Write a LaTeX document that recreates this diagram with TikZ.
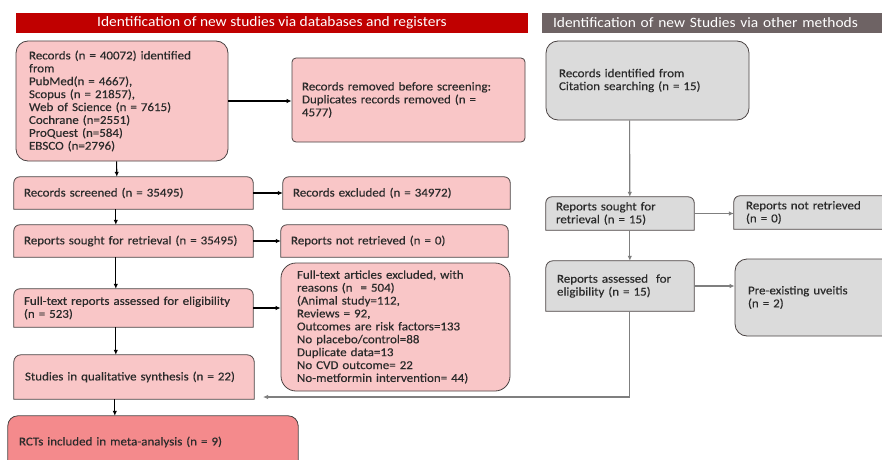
\documentclass[tikz,border=0pt]{standalone}
\usepackage{fontspec}
\setmainfont{Carlito}[FakeStretch=1.08]
\newfontfamily\boxfam{Carlito}[FakeStretch=1.08,FakeBold=0.3]
\usetikzlibrary{arrows.meta,backgrounds}
\definecolor{pinkc}{HTML}{F9C6C7}
\definecolor{rctc}{HTML}{F48A8C}
\definecolor{grayc}{HTML}{DBDBDB}
\definecolor{edgec}{HTML}{4A4343}
\definecolor{textc}{HTML}{2B2B2B}
\definecolor{hdrred}{HTML}{C00000}
\definecolor{hdrgray}{HTML}{6E6364}
\definecolor{arrgray}{HTML}{7F7F7F}
\newcommand\toprnd[3]{%
  \path[#3] (#1.south west) -- ([yshift=-#2]#1.north west)
    arc[start angle=180,end angle=90,radius=#2]
    -- ([xshift=-#2]#1.north east)
    arc[start angle=90,end angle=0,radius=#2]
    -- (#1.south east) -- cycle;}
\tikzset{
  pinkbox/.style={fill=pinkc, draw=edgec, line width=0.8pt},
  rctbox/.style={fill=rctc, draw=edgec, line width=0.8pt},
  graybox/.style={fill=grayc, draw=edgec, line width=0.8pt},
  lbl/.style={font=\boxfam\fontsize{12}{12.9}\selectfont, align=left, inner ysep=0pt, text=textc},
  hdr/.style={font=\fontsize{14.3}{15}\selectfont, text=white, inner ysep=0pt},
  arr/.style={-{Latex[length=5pt,width=4.5pt]}, line width=1.1pt, black},
  garr/.style={-{Latex[length=5pt,width=4.5pt]}, line width=1.1pt, arrgray},
}
\begin{document}
\begin{tikzpicture}[x=1pt,y=1pt]
\useasboundingbox (0,0) rectangle (882,459);

% headers
\node[hdr, fill=hdrred, minimum width=512pt, minimum height=20pt, align=center] (H1) at (272,436) {Identification of new studies via databases and registers};
\node[hdr, fill=hdrgray, minimum height=20pt, text width=326pt, inner xsep=11pt, align=left] (H2) at (716,436) {Identification of new Studies via other methods};

% left column
\node[lbl, pinkbox, rounded corners=12pt, minimum height=120pt, text width=186pt, inner xsep=13pt] (A) at (122,358) {Records (n = 40072) identified\\from\\PubMed(n = 4667),\\Scopus (n = 21857),\\Web of Science (n = 7615)\\Cochrane (n=2551)\\ProQuest (n=584)\\EBSCO (n=2796)};
\node[lbl, pinkbox, rounded corners=4pt, minimum height=84pt, text width=213pt, inner xsep=10pt] (B) at (408.5,359) {Records removed before screening:\\Duplicates records removed (n =\\4577)};
\node[lbl, minimum height=32pt, text width=219pt, inner xsep=10pt] (C) at (133.5,266) {Records screened (n = 35495)};
\node[lbl, minimum height=32pt, text width=207pt, inner xsep=10pt] (D) at (396.5,266) {Records excluded (n = 34972)};
\node[lbl, minimum height=32pt, text width=219pt, inner xsep=10pt] (E) at (133.5,218) {Reports sought for retrieval (n = 35495)};
\node[lbl, minimum height=32pt, text width=207pt, inner xsep=10pt] (F) at (394.5,218) {Reports not retrieved (n = 0)};
\node[lbl, minimum height=38pt, text width=219pt, inner xsep=10pt] (G) at (133.5,151) {Full-text reports assessed for eligibility\\(n = 523)};
\node[lbl, pinkbox, rounded corners=15pt, minimum height=128pt, text width=197pt, inner xsep=16pt] (H) at (395.5,132) {Full-text articles excluded, with\\reasons (n\ \ = 504)\\(Animal study=112,\\Reviews = 92,\\Outcomes are risk factors=133\\No placebo/control=88\\Duplicate data=13\\No CVD outcome= 22\\No-metformin intervention= 44)};
\node[lbl, minimum height=44pt, text width=218pt, inner xsep=11pt] (I) at (134,82) {Studies in qualitative synthesis (n = 22)};
\node[lbl, minimum height=52pt, text width=268pt, inner xsep=11pt] (J) at (153,17) {RCTs included in meta-analysis (n = 9)};

% right column
\node[lbl, graybox, rounded corners=12pt, minimum height=79pt, text width=177pt, inner xsep=13pt] (K) at (647.5,378.5) {Records identified from\\Citation searching (n = 15)};
\node[lbl, minimum height=33pt, text width=128pt, inner xsep=10pt] (L) at (620,245.5) {Reports sought for\\retrieval (n = 15)};
\node[lbl, minimum height=33pt, text width=142pt, inner xsep=12pt] (M) at (817,246.5) {Reports not retrieved\\(n = 0)};
\node[lbl, minimum height=50pt, text width=126pt, inner xsep=11pt] (N) at (620,173) {Reports assessed\ \ for\\eligibility (n = 15)};
\node[lbl, graybox, rounded corners=12pt, minimum height=77pt, text width=139pt, inner xsep=13pt] (O) at (817.5,161.5) {Pre-existing uveitis\\(n = 2)};

\begin{pgfonlayer}{background}
  \fill[white] (0,0) rectangle (882,459);
  \toprnd{C}{6pt}{pinkbox}
  \toprnd{D}{6pt}{pinkbox}
  \toprnd{E}{6pt}{pinkbox}
  \toprnd{F}{6pt}{pinkbox}
  \toprnd{G}{6pt}{pinkbox}
  \toprnd{I}{7pt}{pinkbox}
  \toprnd{J}{10pt}{rctbox}
  \toprnd{L}{6pt}{graybox}
  \toprnd{M}{6pt}{graybox}
  \toprnd{N}{7pt}{graybox}
\end{pgfonlayer}

% left connectors
\draw[arr] (A.east) -- (A.east -| B.west);
\draw[arr] ([xshift=101pt]A.south west) -- ([xshift=103pt]C.north west);
\draw[arr] (C.east) -- (C.east -| D.west);
\draw[arr] ([xshift=102pt]C.south west) -- ([xshift=102pt]E.north west);
\draw[arr] (E.east) -- (E.east -| F.west);
\draw[arr] ([xshift=102pt]E.south west) -- ([xshift=102pt]G.north west);
\draw[arr] (G.east) -- (G.east -| H.west);
\draw[arr] ([xshift=102pt]G.south west) -- ([xshift=102pt]I.north west);
\draw[arr] ([xshift=101pt]I.south west) -- ([xshift=107pt]J.north west);

% right connectors
\coordinate (ret) at (263,62);
\draw[garr] ([xshift=84pt]K.south west) -- ([xshift=84pt]L.north west);
\draw[garr] (L.east) -- (L.east -| M.west);
\draw[garr] ([xshift=84pt]L.south west) -- ([xshift=84pt]N.north west);
\draw[garr] (N.east) -- (N.east -| O.west);
\draw[garr] ([xshift=84pt]N.south west) |- (ret);
\end{tikzpicture}
\end{document}
